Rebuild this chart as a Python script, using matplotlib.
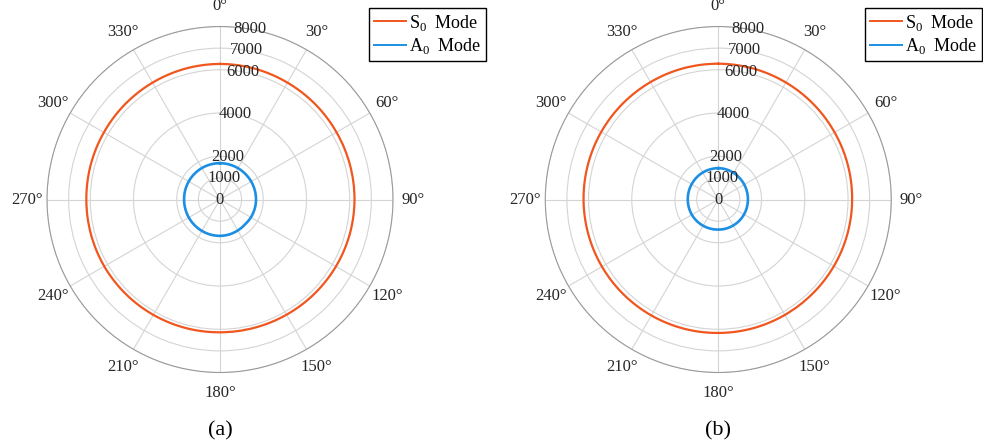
import numpy as np
import matplotlib.pyplot as plt

plt.rcParams['font.family'] = ['Liberation Serif', 'DejaVu Serif']
plt.rcParams['mathtext.fontset'] = 'custom'
plt.rcParams['mathtext.rm'] = 'Liberation Serif'

# propagation angle (deg, clockwise from top) and phase velocity (m/s)
angles = [0, 15, 30, 45, 60, 75, 90, 105, 120, 135, 150, 165,
          180, 195, 210, 225, 240, 255, 270, 285, 300, 315, 330, 345]

s0_a = [6270, 6260, 6240, 6230, 6220, 6220, 6220, 6210, 6190, 6170, 6150, 6140,
        6140, 6150, 6160, 6170, 6180, 6180, 6180, 6190, 6200, 6220, 6240, 6260]
a0_a = [1680, 1675, 1670, 1665, 1665, 1665, 1665, 1660, 1650, 1630, 1650, 1670,
        1680, 1680, 1675, 1670, 1665, 1660, 1660, 1665, 1670, 1675, 1680, 1680]

s0_b = [6280, 6270, 6250, 6230, 6210, 6200, 6190, 6180, 6170, 6160, 6160, 6165,
        6170, 6180, 6190, 6200, 6210, 6220, 6230, 6240, 6250, 6260, 6270, 6280]
a0_b = [1450, 1440, 1420, 1400, 1385, 1375, 1370, 1370, 1375, 1380, 1385, 1390,
        1390, 1395, 1400, 1405, 1410, 1410, 1410, 1415, 1420, 1430, 1440, 1445]

r_ticks = [0, 1000, 2000, 4000, 6000, 7000, 8000]
theta_ticks = list(range(0, 360, 30))

c_s0 = '#F0561E'
c_a0 = '#1C8FE3'


def draw_panel(ax, s0, a0, tag):
    # close the curve at 360 deg so the last segment runs forward
    th = np.deg2rad(angles + [360])
    ax.set_theta_zero_location('N')
    ax.set_theta_direction(-1)
    l1, = ax.plot(th, s0 + s0[:1], color=c_s0, lw=1.6, label=r'S$_{0}$  Mode')
    l2, = ax.plot(th, a0 + a0[:1], color=c_a0, lw=1.9, label=r'A$_{0}$  Mode')
    # let the polar transform bend each segment along the arc
    for ln in (l1, l2):
        ln.get_path()._interpolation_steps = 40
    ax.set_ylim(0, 8000)
    ax.set_rgrids(r_ticks[1:], labels=[''] * (len(r_ticks) - 1))
    ax.set_thetagrids(theta_ticks, labels=[f'{t}°' for t in theta_ticks],
                      fontsize=12, color='#262626')
    ax.tick_params(axis='x', pad=4)
    ax.grid(True, color='#d4d4d4', lw=0.8)
    ax.spines['polar'].set_color('#9a9a9a')
    ax.spines['polar'].set_linewidth(0.8)
    # radial labels sit just right of the 0° spoke
    for r in r_ticks:
        ax.text(np.deg2rad(10 if r else 0), r, str(r), ha='center', va='center',
                fontsize=12, color='#262626')
    ax.text(0.5, -0.17, tag, transform=ax.transAxes, ha='center', va='center',
            fontsize=16)


fig = plt.figure(figsize=(9.83, 4.48), dpi=100)
ax1 = fig.add_axes([0.0478, 0.1685, 0.352, 0.7723], projection='polar')
ax2 = fig.add_axes([0.5547, 0.1685, 0.352, 0.7723], projection='polar')

draw_panel(ax1, s0_a, a0_a, '(a)')
draw_panel(ax2, s0_b, a0_b, '(b)')

for ax, x_right in [(ax1, 0.4944), (ax2, 0.999)]:
    leg = ax.legend(loc='upper right', bbox_to_anchor=(x_right, 0.982),
                    bbox_transform=fig.transFigure, borderaxespad=0,
                    fancybox=False, framealpha=1, edgecolor='black',
                    fontsize=13, handlelength=1.8, handletextpad=0.15,
                    labelspacing=0.2, borderpad=0.25)
    leg.get_frame().set_linewidth(1.0)
    for h in leg.get_lines():
        h.set_linewidth(1.4)

fig.savefig('out.png', dpi=100)
